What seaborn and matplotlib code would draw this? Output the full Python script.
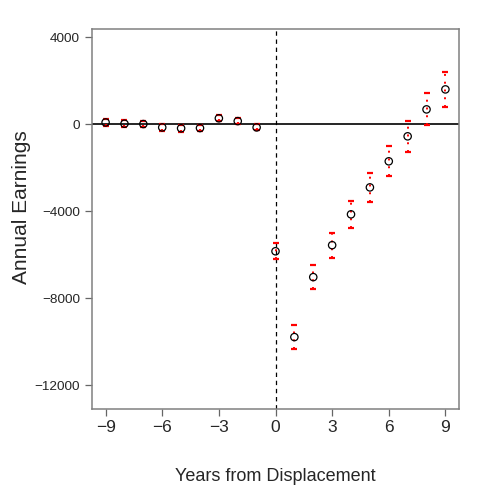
import numpy as np
import pandas as pd
import matplotlib
matplotlib.use("Agg")
import matplotlib.pyplot as plt
import seaborn as sns

# event-study estimates
years = [-9, -8, -7, -6, -5, -4, -3, -2, -1, 0, 1, 2, 3, 4, 5, 6, 7, 8, 9]
earnings = [90, 30, 15, -140, -180, -170, 280, 150, -140,
            -5840, -9790, -7030, -5560, -4140, -2900, -1700, -550, 690, 1610]
ci_half = [170, 150, 150, 150, 150, 150, 140, 140, 140,
           370, 550, 560, 580, 610, 660, 690, 700, 740, 790]

df = pd.DataFrame({"year": years, "earnings": earnings, "ci": ci_half})

sns.set_style("white")
plt.rcParams["font.family"] = ["Liberation Sans", "DejaVu Sans"]

fig = plt.figure(figsize=(4.88, 4.88), dpi=100)
ax = fig.add_axes([92 / 488, 79 / 488, 367 / 488, 380 / 488])

# reference lines
ax.axhline(0, color="black", lw=1.2, zorder=1)
ax.axvline(0, color="black", lw=0.9, ls=(0, (3.5, 3)), zorder=1)

# confidence intervals, red dotted with caps
eb = ax.errorbar(df["year"], df["earnings"], yerr=df["ci"], fmt="none",
                 ecolor="red", elinewidth=1.4, capsize=2.2, capthick=1.6, zorder=3)
eb[2][0].set_linestyle((0, (1, 3)))

# point estimates
sns.scatterplot(data=df, x="year", y="earnings", ax=ax, marker="o", s=28,
                facecolors="none", edgecolor="black", linewidth=0.9, zorder=4)

ax.set_xlim(-9.72, 9.72)
ax.set_ylim(-13100, 4390)
ax.set_xticks([-9, -6, -3, 0, 3, 6, 9])
ax.set_xticklabels(["\u22129", "\u22126", "\u22123", "0", "3", "6", "9"])
ax.set_yticks([4000, 0, -4000, -8000, -12000])
ax.set_yticklabels(["4000", "0", "\u22124000", "\u22128000", "\u221212000"])

ax.tick_params(axis="x", labelsize=12.5, length=5, width=0.9, color="#666666",
               direction="out", pad=3, bottom=True)
ax.tick_params(axis="y", labelsize=9.7, length=5, width=0.9, color="#666666",
               direction="out", pad=3.5, left=True)
for sp in ax.spines.values():
    sp.set_color("#808080")
    sp.set_linewidth(1.1)

ax.set_xlabel("Years from Displacement", fontsize=13)
ax.set_ylabel("Annual Earnings", fontsize=15)
ax.xaxis.set_label_coords(0.5, -0.155)
ax.yaxis.set_label_coords(-0.166, 0.53)

fig.savefig("out.png", dpi=100)
